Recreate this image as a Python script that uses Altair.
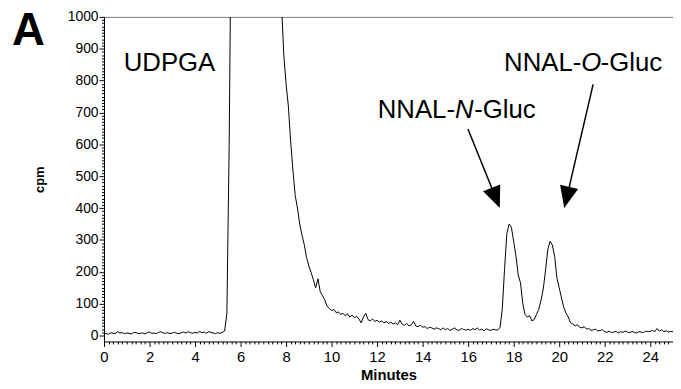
import altair as alt
import pandas as pd

# Radioactivity trace (cpm) sampled every 0.1 min from 0.0 to 25.0 min
cpm = [
    5, 6, 4, 9, 7, 6, 12, 8, 9, 6,                      # 0.0-0.9
    8, 7, 5, 9, 10, 6, 7, 8, 5, 9,                      # 1.0-1.9
    11, 7, 8, 6, 10, 12, 8, 7, 9, 6,                    # 2.0-2.9
    8, 10, 7, 6, 9, 11, 8, 12, 9, 7,                    # 3.0-3.9
    10, 8, 13, 9, 11, 7, 12, 10, 8, 6,                  # 4.0-4.9
    9, 7, 10, 14, 70, 600, 1400, 3000, 4500, 5000,      # 5.0-5.9
    5200, 5000, 4700, 4300, 3900, 3500, 3100, 2800, 2500, 2200,  # 6.0-6.9
    2000, 1850, 1700, 1550, 1420, 1300, 1200, 1120, 1040, 880,   # 7.0-7.9
    790, 720, 610, 520, 440, 400, 350, 315, 285, 245,   # 8.0-8.9
    218, 198, 175, 150, 178, 138, 125, 112, 92, 86,     # 9.0-9.9
    78, 82, 72, 74, 66, 70, 62, 68, 58, 64,             # 10.0-10.9
    56, 60, 52, 40, 58, 70, 50, 46, 52, 44,             # 11.0-11.9
    48, 42, 46, 40, 44, 38, 42, 36, 40, 34,             # 12.0-12.9
    48, 36, 32, 38, 30, 34, 44, 30, 28, 32,             # 13.0-13.9
    26, 28, 22, 26, 24, 20, 24, 22, 18, 24,             # 14.0-14.9
    18, 22, 16, 20, 24, 18, 16, 22, 19, 17,             # 15.0-15.9
    20, 16, 22, 18, 24, 17, 20, 15, 21, 18,             # 16.0-16.9
    16, 20, 18, 17, 25, 84, 210, 320, 350, 340,         # 17.0-17.9
    295, 250, 190, 165, 100, 66, 58, 62, 46, 50,        # 18.0-18.9
    66, 82, 110, 146, 205, 270, 296, 284, 248, 180,     # 19.0-19.9
    150, 118, 88, 70, 58, 40, 36, 30, 34, 26,           # 20.0-20.9
    24, 28, 20, 22, 16, 18, 20, 14, 16, 18,             # 21.0-21.9
    12, 10, 14, 9, 11, 13, 8, 12, 10, 14,               # 22.0-22.9
    11, 9, 13, 10, 8, 12, 11, 9, 14, 12,                # 23.0-23.9
    13, 16, 12, 22, 14, 18, 12, 15, 11, 13,             # 24.0-24.9
    12,                                                 # 25.0
]
minutes = [round(i * 0.1, 1) for i in range(len(cpm))]

# Axis tick values
x_minor = [round(i * 0.2, 1) for i in range(0, 126)]
y_minor = list(range(0, 1001, 10))

# Annotations (data units)
label_text = ["UDPGA"]
label_t = [0.87]
label_v = [829]

panel_text = ["A"]
panel_t = [-4.04]
panel_v = [913]

gluc_t = [12.03, 17.58]
gluc_v = [683, 831]
gluc_prefix = ["NNAL-", "NNAL-"]
gluc_atom = ["N", "O"]
gluc_suffix = ["-Gluc", "-Gluc"]

arrow_t = [15.99, 21.49]
arrow_v = [648, 788]
arrow_t2 = [17.10, 20.40]
arrow_v2 = [452, 454]
tip_t = [17.39, 20.22]
tip_v = [400, 400]
tip_angle = [338, 13]

df = pd.DataFrame({"minutes": minutes, "cpm": cpm})
lab = pd.DataFrame({"t": label_t, "v": label_v, "text": label_text})
panel = pd.DataFrame({"t": panel_t, "v": panel_v, "text": panel_text})
gl = pd.DataFrame({"t": gluc_t, "v": gluc_v, "pre": gluc_prefix,
                   "atom": gluc_atom, "suf": gluc_suffix})
arr = pd.DataFrame({"t": arrow_t, "v": arrow_v, "t2": arrow_t2, "v2": arrow_v2})
tips = pd.DataFrame({"t": tip_t, "v": tip_v, "angle": tip_angle})

xscale = alt.Scale(domain=[0, 25], nice=False, zero=False)
yscale = alt.Scale(domain=[-18.6, 1000], nice=False, zero=False)

x_is_major = "abs(datum.value/2 - round(datum.value/2)) < 0.001"
y_is_major = "abs(datum.value/100 - round(datum.value/100)) < 0.001"

xaxis = alt.Axis(
    values=x_minor,
    labelExpr=f"{x_is_major} ? format(datum.value, '.0f') : ''",
    tickSize={"condition": {"test": x_is_major, "value": 5}, "value": 2.5},
    labelOverlap=False, labelFlush=False, labelBound=False,
    labelFontSize=15, labelColor="black", labelPadding=3,
    tickColor="black", domainColor="black", grid=False,
    title="Minutes", titleFontSize=15, titleFontWeight="bold", titleColor="black",
    titleBaseline="alphabetic", titleY=38.5,
)
yaxis = alt.Axis(
    values=y_minor,
    labelExpr=f"{y_is_major} ? format(datum.value, '.0f') : ''",
    tickSize={"condition": {"test": y_is_major, "value": 5}, "value": 2.5},
    labelOverlap=False, labelFlush=False, labelBound=False,
    labelFontSize=14, labelColor="black", labelPadding=1,
    tickColor="black", domainColor="black", grid=False,
    title="cpm", titleFontSize=13, titleFontWeight="bold", titleColor="black",
    titleAngle=270, titleBaseline="alphabetic", titleAlign="center",
    titleX=-61, titleY=164,
)

line = alt.Chart(df).mark_line(color="black", strokeWidth=1, clip=True).encode(
    x=alt.X("minutes:Q", scale=xscale, axis=xaxis),
    y=alt.Y("cpm:Q", scale=yscale, axis=yaxis),
)

txt_font = "Liberation Sans"


def text_layer(data, field, **kw):
    return alt.Chart(data).mark_text(
        align="left", baseline="alphabetic", font=txt_font, color="black", **kw
    ).encode(
        x=alt.X("t:Q", scale=xscale, axis=None),
        y=alt.Y("v:Q", scale=yscale, axis=None),
        text=f"{field}:N",
    )


panel_lbl = text_layer(panel, "text", fontSize=46, fontWeight="bold")
udpga = text_layer(lab, "text", fontSize=26)
pre = text_layer(gl, "pre", fontSize=26)
atom = text_layer(gl, "atom", fontSize=26, fontStyle="italic", dx=78)
suf = text_layer(gl, "suf", fontSize=26, dx=97.5)

shafts = alt.Chart(arr).mark_rule(color="black", strokeWidth=1.5).encode(
    x=alt.X("t:Q", scale=xscale,
            axis=alt.Axis(orient="top", ticks=False, labels=False, title=None,
                          grid=False, domainColor="#808080", domainWidth=1)),
    y=alt.Y("v:Q", scale=yscale, axis=None),
    x2="t2:Q",
    y2="v2:Q",
)

heads = alt.Chart(tips).mark_point(
    shape="M0,0L-0.85,-2L0.85,-2Z", size=484, filled=True, fill="black",
    strokeWidth=0, opacity=1
).encode(
    x=alt.X("t:Q", scale=xscale, axis=None),
    y=alt.Y("v:Q", scale=yscale, axis=None),
    angle=alt.Angle("angle:Q", scale=None),
)

chart = alt.layer(line, panel_lbl, udpga, pre, atom, suf, shafts, heads).resolve_axis(
    x="independent", y="independent"
).properties(
    width=575,
    height=328,
    autosize=alt.AutoSizeParams(type="none"),
    padding={"left": 97, "top": 7, "right": 0, "bottom": 40},
).configure(font=txt_font).configure_view(stroke=None)

chart.save("out.html", embed_options={"renderer": "svg", "actions": False})
